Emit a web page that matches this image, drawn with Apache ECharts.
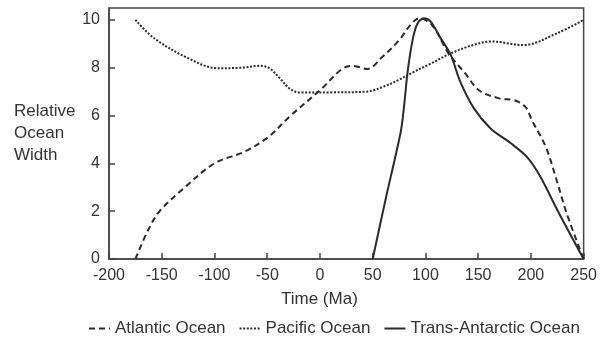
<!DOCTYPE html>
<html>
<head>
<meta charset="utf-8">
<script src="https://cdn.jsdelivr.net/npm/echarts@6.0.0/dist/echarts.min.js"></script>
<style>
  html, body { margin: 0; padding: 0; background: #fff; }
  #chart { width: 600px; height: 337px; }
</style>
</head>
<body>
<div id="chart"></div>
<script>
// values (time in Ma, relative width)
const atlanticTime = [-175, -163, -152, -128, -100, -71, -49, -29, 1, 21, 31, 45, 59, 75, 86, 94, 106, 122, 138, 151, 170, 185, 195, 201, 214, 223, 234, 250];
const atlanticWidth = [0, 1.2, 2.0, 3.0, 4.0, 4.5, 5.1, 5.95, 7.1, 7.95, 8.08, 7.95, 8.45, 9.15, 9.8, 10.07, 9.8, 8.6, 7.75, 7.05, 6.72, 6.63, 6.35, 5.8, 4.7, 3.5, 1.9, 0];

const pacificTime = [-175, -157, -125, -97, -75, -57, -48, -38, -29, -19, 10, 44, 62, 75, 90, 104, 124, 145, 162, 193, 225, 250];
const pacificWidth = [10, 9.23, 8.4, 7.98, 8.0, 8.08, 7.98, 7.56, 7.14, 6.96, 6.97, 7.0, 7.24, 7.5, 7.85, 8.15, 8.6, 8.95, 9.1, 8.95, 9.45, 10];

const transTime = [50, 63, 76.5, 80, 83, 88, 92.5, 98.5, 105, 114.5, 124, 133, 146, 162, 181, 196, 209, 225, 250];
const transWidth = [0, 2.65, 5.3, 6.5, 7.8, 9.2, 9.85, 10.07, 9.93, 9.23, 8.54, 7.42, 6.3, 5.45, 4.84, 4.28, 3.44, 2.05, 0];

const xTicks = [-200, -150, -100, -50, 0, 50, 100, 150, 200, 250];
const yTicks = [0, 2, 4, 6, 8, 10];

const pairs = (xs, ys) => xs.map((x, i) => [x, ys[i]]);

const ink = "#2a2a2a";
const font = "'Liberation Sans', Arial, sans-serif";

const chart = echarts.init(document.getElementById("chart"), null, { renderer: "canvas" });
chart.setOption({
  animation: false,
  textStyle: { fontFamily: font },
  grid: {
    left: 109, right: 15, top: 8, bottom: 78,
    show: true, borderColor: "#444", borderWidth: 1.5, backgroundColor: "transparent"
  },
  xAxis: {
    type: "value",
    min: -200, max: 250, interval: 50,
    axisLine: { onZero: false, lineStyle: { color: "#444", width: 1.5 } },
    axisTick: { inside: true, length: 6, customValues: xTicks, lineStyle: { color: "#444", width: 1.5 } },
    axisLabel: { color: "#333", fontSize: 16, margin: 9, customValues: xTicks, fontFamily: font },
    splitLine: { show: false }
  },
  yAxis: {
    type: "value",
    min: 0, max: 10.5,
    name: "Relative\nOcean\nWidth",
    nameLocation: "middle",
    nameRotate: 0,
    nameGap: 95,
    nameTextStyle: { color: "#333", fontSize: 17, align: "left", lineHeight: 22, fontFamily: font },
    axisLine: { onZero: false, lineStyle: { color: "#444", width: 1.5 } },
    axisTick: { inside: true, length: 6, customValues: yTicks, lineStyle: { color: "#444", width: 1.5 } },
    axisLabel: { color: "#333", fontSize: 16, margin: 9, customValues: yTicks, fontFamily: font },
    splitLine: { show: false }
  },
  graphic: [{
    type: "text",
    left: 281, top: 291,
    style: { text: "Time (Ma)", fill: "#333", font: "17px " + font }
  }],
  legend: {
    left: 83, top: 315,
    itemWidth: 21, itemHeight: 10, itemGap: 13,
    itemStyle: { opacity: 0 },
    textStyle: { color: "#333", fontSize: 17, fontFamily: font },
    data: ["Atlantic Ocean", "Pacific Ocean", "Trans-Antarctic Ocean"]
  },
  series: [
    {
      name: "Atlantic Ocean", type: "line", smooth: 0.35, symbol: "none",
      lineStyle: { color: ink, width: 2, type: [6, 4] },
      itemStyle: { color: ink },
      data: pairs(atlanticTime, atlanticWidth)
    },
    {
      name: "Pacific Ocean", type: "line", smooth: 0.35, symbol: "none",
      lineStyle: { color: ink, width: 2, type: [2, 1.6] },
      itemStyle: { color: ink },
      data: pairs(pacificTime, pacificWidth)
    },
    {
      name: "Trans-Antarctic Ocean", type: "line", smooth: 0.3, symbol: "none",
      lineStyle: { color: ink, width: 2, type: "solid" },
      itemStyle: { color: ink },
      data: pairs(transTime, transWidth)
    }
  ]
});
</script>
</body>
</html>
